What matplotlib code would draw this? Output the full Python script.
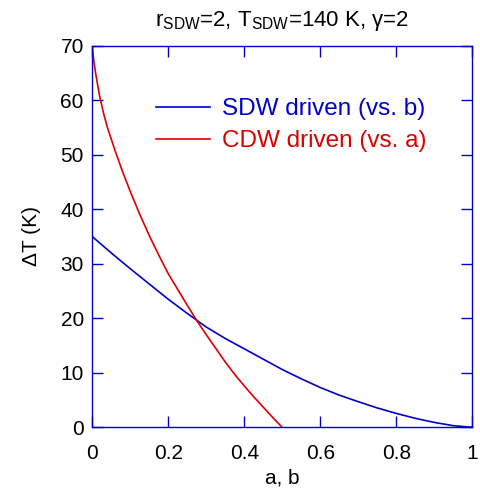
import matplotlib
matplotlib.use('Agg')
import matplotlib.pyplot as plt

# values
b_vals = [0.0, 0.05, 0.1, 0.15, 0.2, 0.25, 0.3, 0.35, 0.4, 0.45, 0.5,
          0.55, 0.6, 0.65, 0.7, 0.75, 0.8, 0.85, 0.9, 0.95, 1.0]
sdw_dT = [35.0, 32.0, 29.1, 26.3, 23.5, 20.9, 18.4, 16.3, 14.4, 12.5, 10.6,
          8.9, 7.3, 5.9, 4.7, 3.55, 2.55, 1.65, 0.9, 0.3, 0.0]

a_vals = [0.0, 0.005, 0.01, 0.02, 0.03, 0.04, 0.06, 0.08, 0.1, 0.125, 0.15,
          0.175, 0.2, 0.225, 0.25, 0.275, 0.3, 0.325, 0.35, 0.375, 0.4,
          0.425, 0.45, 0.475, 0.5]
cdw_dT = [70.0, 66.8, 64.6, 60.6, 57.6, 55.0, 50.8, 46.9, 43.3, 39.1, 35.2,
          31.6, 28.2, 25.3, 22.4, 19.6, 17.0, 14.5, 12.0, 9.7, 7.6,
          5.6, 3.7, 1.8, 0.0]

x_ticks = [0, 0.2, 0.4, 0.6, 0.8, 1]
x_tick_labels = ['0', '0.2', '0.4', '0.6', '0.8', '1']
y_ticks = [0, 10, 20, 30, 40, 50, 60, 70]

blue = '#0000CC'
red = '#DD0000'

plt.rcParams['font.family'] = ['Liberation Sans', 'DejaVu Sans']
plt.rcParams['mathtext.fontset'] = 'custom'
plt.rcParams['mathtext.rm'] = 'Liberation Sans'

fig = plt.figure(figsize=(4.8, 4.91), dpi=100)
ax = fig.add_axes([0.192, 0.1297, 0.792, 0.7773])

ax.plot(b_vals, sdw_dT, color=blue, lw=1.2, label='SDW driven (vs. b)')
ax.plot(a_vals, cdw_dT, color=red, lw=1.2, label='CDW driven (vs. a)')

ax.set_xlim(0, 1)
ax.set_ylim(0, 70)
ax.set_xticks(x_ticks)
ax.set_xticklabels(x_tick_labels)
ax.set_yticks(y_ticks)

for sp in ax.spines.values():
    sp.set_color(blue)
    sp.set_linewidth(1.0)
ax.tick_params(direction='in', length=8, width=1, color=blue,
               top=True, right=True, labelsize=15)
ax.tick_params(axis='x', pad=12)
ax.tick_params(axis='y', pad=6)

ax.set_xlabel('a, b', fontsize=15, labelpad=4)
ax.set_ylabel('\u0394T (K)', fontsize=15, labelpad=14)
title = r'r$_{\mathrm{SDW}}$=2, T$_{\mathrm{SDW}}$=140 K, ' + '\u03b3=2'
ax.set_title(title, fontsize=16, pad=14)

leg = ax.legend(loc='upper right', bbox_to_anchor=(0.937, 0.92), frameon=False,
                fontsize=17.5, handlelength=2.2, handletextpad=0.5,
                labelspacing=0.42)
for txt, col in zip(leg.get_texts(), [blue, red]):
    txt.set_color(col)

fig.savefig('out.png', dpi=100)
